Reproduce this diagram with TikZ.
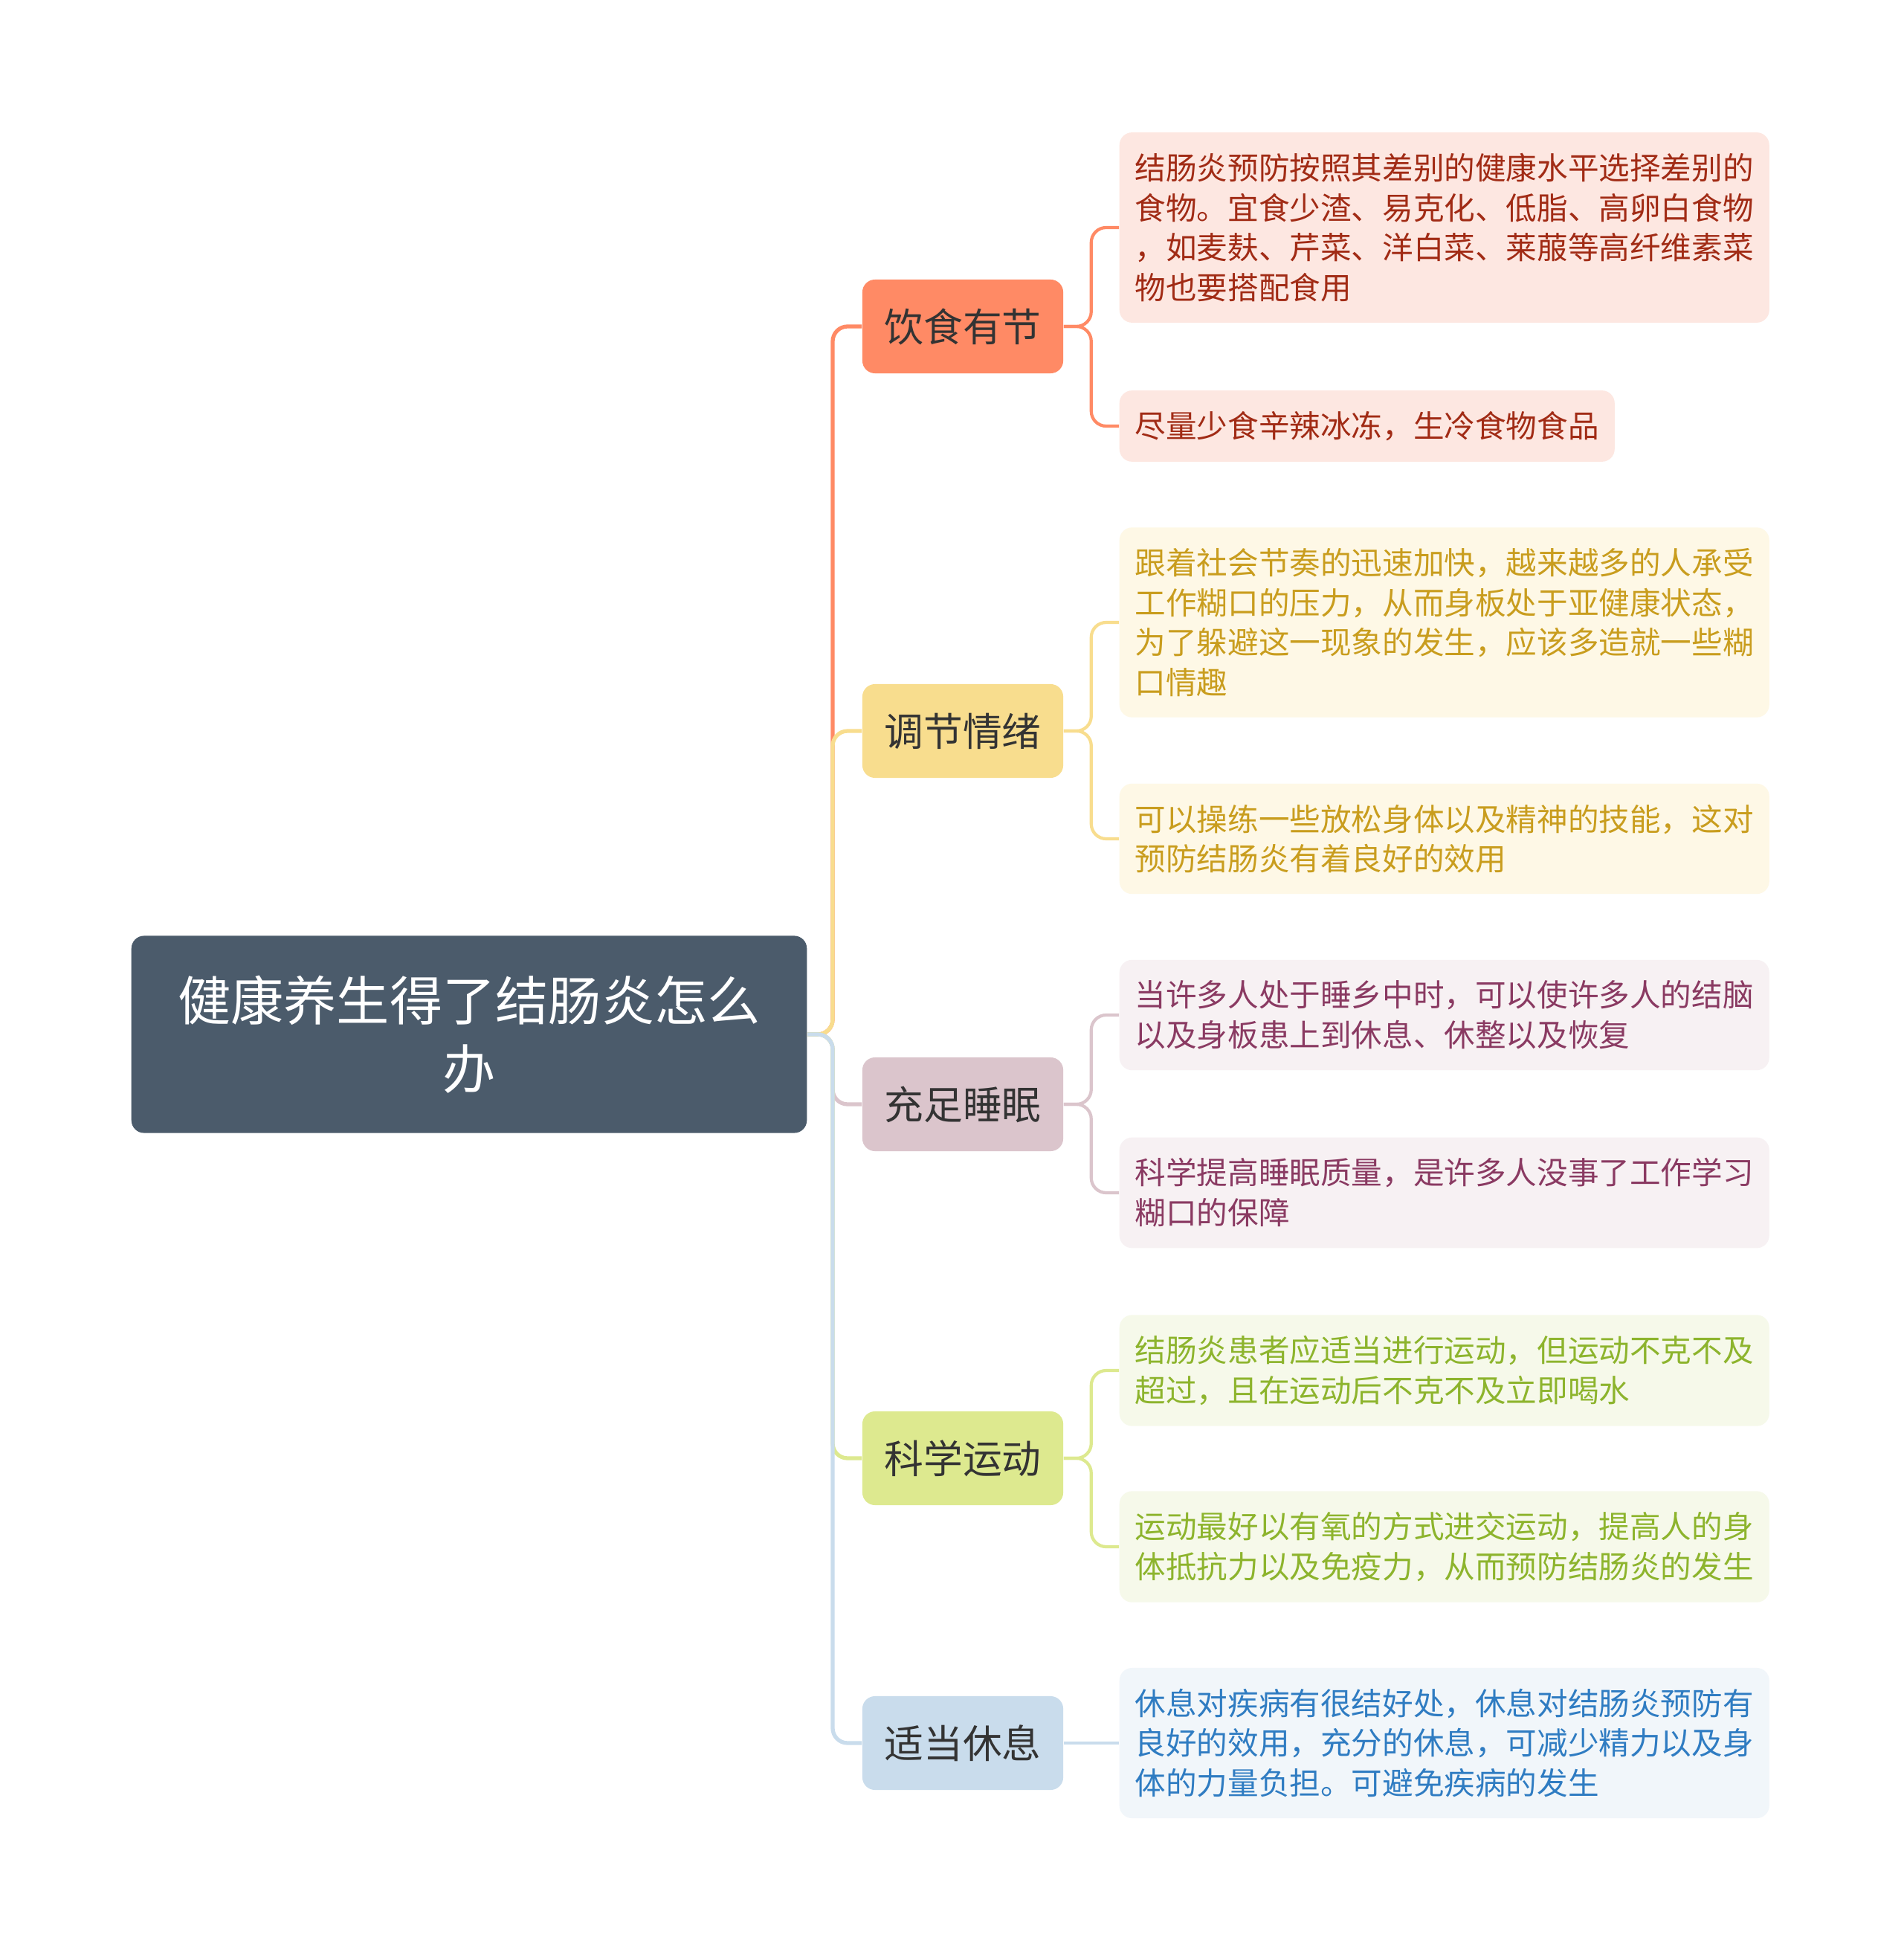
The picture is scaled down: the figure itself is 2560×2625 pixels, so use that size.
\documentclass[tikz,border=0pt]{standalone}
\usepackage{fontspec}
\setmainfont{Noto Sans CJK SC}
\usepackage{tikz}
\usetikzlibrary{positioning}
\definecolor{rootfill}{HTML}{4B5B6B}
\definecolor{topictext}{HTML}{333333}
\definecolor{cA}{HTML}{FF8A65}
\definecolor{cB}{HTML}{F8DD8E}
\definecolor{cC}{HTML}{DBC5CC}
\definecolor{cD}{HTML}{DDE98F}
\definecolor{cE}{HTML}{C9DCEC}
\definecolor{fA}{HTML}{FDE7E1}
\definecolor{fB}{HTML}{FEF8E6}
\definecolor{fC}{HTML}{F7F1F3}
\definecolor{fD}{HTML}{F6F9EA}
\definecolor{fE}{HTML}{F1F6FA}
\definecolor{tA}{HTML}{A12B15}
\definecolor{tB}{HTML}{C99D1E}
\definecolor{tC}{HTML}{8A3A62}
\definecolor{tD}{HTML}{8DB42D}
\definecolor{tE}{HTML}{2F7CC2}
\tikzset{
    root/.style={
        fill=rootfill,
        rounded corners=0.17cm,
        minimum width=9.08cm,
        minimum height=2.65cm,
        align=center,
        text=white,
        font=\fontsize{20.26}{26.2}\selectfont
    },
    topic/.style={
        rounded corners=0.17cm,
        minimum width=2.7cm,
        minimum height=1.26cm,
        inner sep=0pt,
        text=topictext,
        font=\fontsize{15}{18}\selectfont
    },
    leaf/.style={
        rounded corners=0.17cm,
        inner xsep=0.21cm,
        inner ysep=0.28cm,
        align=left,
        anchor=west,
        font=\fontsize{11.83}{15.25}\selectfont
    },
    trunk/.style={line width=1.5pt, rounded corners=0.2cm},
    twig/.style={line width=1.2pt, rounded corners=0.2cm}
}

\begin{document}
\begin{tikzpicture}[x=0.01cm, y=-0.01cm]
    \fill[white] (0,0) rectangle (2560,2625);
    \useasboundingbox (0,0) rectangle (2560,2625);

    \node[root] (R) at (631,1391) {健康养生得了结肠炎怎么\\办};

    \node[topic, fill=cA] (A) at (1295,439) {饮食有节};
    \node[topic, fill=cB] (B) at (1295,983) {调节情绪};
    \node[topic, fill=cC] (C) at (1295,1485) {充足睡眠};
    \node[topic, fill=cD] (D) at (1295,1961) {科学运动};
    \node[topic, fill=cE] (E) at (1295,2344) {适当休息};

    \node[leaf, fill=fA, text=tA] (A1) at (1505,306) {结肠炎预防按照其差别的健康水平选择差别的\\食物。宜食少渣、易克化、低脂、高卵白食物\\，如麦麸、芹菜、洋白菜、莱菔等高纤维素菜\\物也要搭配食用};
    \node[leaf, fill=fA, text=tA] (A2) at (1505,573) {尽量少食辛辣冰冻，生冷食物食品};
    \node[leaf, fill=fB, text=tB] (B1) at (1505,837) {跟着社会节奏的迅速加快，越来越多的人承受\\工作糊口的压力，从而身板处于亚健康状态，\\为了躲避这一现象的发生，应该多造就一些糊\\口情趣};
    \node[leaf, fill=fB, text=tB] (B2) at (1505,1128) {可以操练一些放松身体以及精神的技能，这对\\预防结肠炎有着良好的效用};
    \node[leaf, fill=fC, text=tC] (C1) at (1505,1365) {当许多人处于睡乡中时，可以使许多人的结脑\\以及身板患上到休息、休整以及恢复};
    \node[leaf, fill=fC, text=tC] (C2) at (1505,1604) {科学提高睡眠质量，是许多人没事了工作学习\\糊口的保障};
    \node[leaf, fill=fD, text=tD] (D1) at (1505,1843) {结肠炎患者应适当进行运动，但运动不克不及\\超过，且在运动后不克不及立即喝水};
    \node[leaf, fill=fD, text=tD] (D2) at (1505,2080) {运动最好以有氧的方式进交运动，提高人的身\\体抵抗力以及免疫力，从而预防结肠炎的发生};
    \node[leaf, fill=fE, text=tE] (E1) at (1505,2344) {休息对疾病有很结好处，休息对结肠炎预防有\\良好的效用，充分的休息，可减少精力以及身\\体的力量负担。可避免疾病的发生};

    % root to topics
    \coordinate (T) at (1120,1391);
    \draw[trunk, cA] (R.east) -- (T) |- (A.west);
    \draw[trunk, cB] (R.east) -- (T) |- (B.west);
    \draw[trunk, cC] (R.east) -- (T) |- (C.west);
    \draw[trunk, cD] (R.east) -- (T) |- (D.west);
    \draw[trunk, cE] (R.east) -- (T) |- (E.west);

    % topics to leaves
    \draw[twig, cA] (A.east) -- ++(37,0) |- (A1.west);
    \draw[twig, cA] (A.east) -- ++(37,0) |- (A2.west);
    \draw[twig, cB] (B.east) -- ++(37,0) |- (B1.west);
    \draw[twig, cB] (B.east) -- ++(37,0) |- (B2.west);
    \draw[twig, cC] (C.east) -- ++(37,0) |- (C1.west);
    \draw[twig, cC] (C.east) -- ++(37,0) |- (C2.west);
    \draw[twig, cD] (D.east) -- ++(37,0) |- (D1.west);
    \draw[twig, cD] (D.east) -- ++(37,0) |- (D2.west);
    \draw[twig, cE] (E.east) -- (E1.west);
\end{tikzpicture}
\end{document}
